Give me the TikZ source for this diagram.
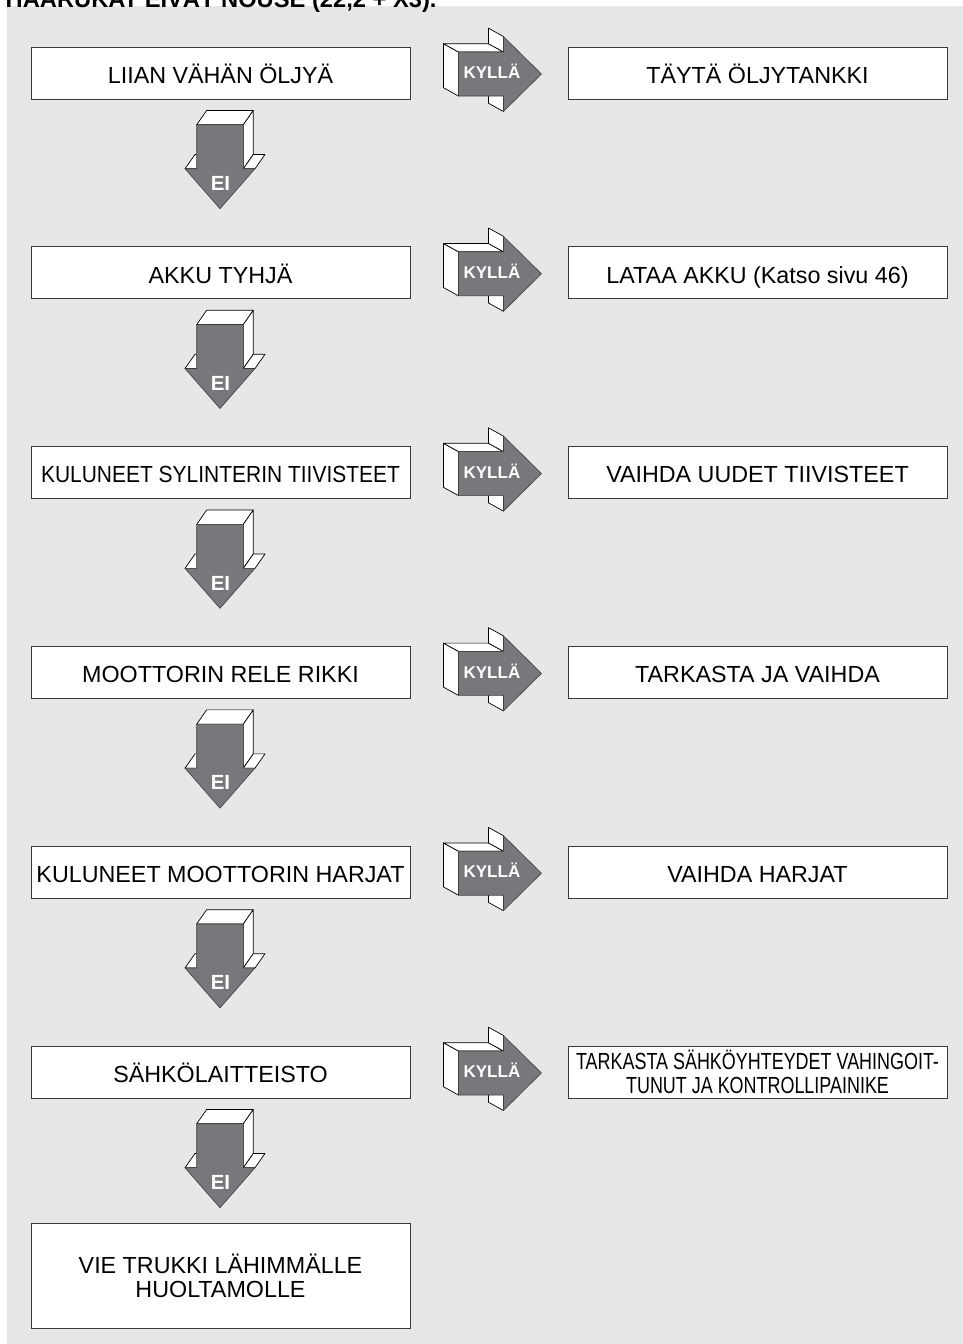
\documentclass[tikz,border=0pt]{standalone}
\usepackage{fontspec}
\setmainfont{Liberation Sans}
\usepackage{graphicx}
\definecolor{bg}{HTML}{E6E7E8}
\definecolor{arrowgrey}{HTML}{77787B}
\definecolor{edge}{HTML}{3A3A3A}

\newcommand\kyllashape[1]{%
  \filldraw[face] (0,-22)--(-15,-30.3)--(-15,13.7)--(0,22)--cycle;
  \filldraw[face] (0,-22)--(-15,-30.3)--(30,-30.3)--(45,-22)--cycle;
  \filldraw[face] (45,-37.5)--(30,-45.8)--(30,-30.3)--(45,-22)--cycle;
  \filldraw[face] (45,22)--(30,13.7)--(30,29.2)--(45,37.5)--cycle;
  \filldraw[front] (0,-22)--(45,-22)--(45,-37.5)--(83,0)--(45,37.5)--(45,22)--(0,22)--cycle;
  \node[yeslbl] (#1) at (33.5,4.6) {KYLLÄ};
}
\newcommand\eishape[1]{%
  \filldraw[face] (-23.3,0)--(-13.3,-14.3)--(33.3,-14.3)--(23.3,0)--cycle;
  \filldraw[face] (23.3,0)--(33.3,-14.3)--(33.3,29.7)--(23.3,44)--cycle;
  \filldraw[face] (-35,44)--(-25,29.7)--(-13.3,29.7)--(-23.3,44)--cycle;
  \filldraw[face] (23.3,44)--(33.3,29.7)--(45,29.7)--(35,44)--cycle;
  \filldraw[front] (-23.3,0)--(23.3,0)--(23.3,44)--(35,44)--(0,84)--(-35,44)--(-23.3,44)--cycle;
  \node[nolbl] (#1) at (0.5,65.7) {EI};
}

\begin{document}
\begin{tikzpicture}[x=1pt,y=-1pt,
  box/.style={draw=edge, line width=0.9pt, fill=white, minimum width=379pt,
    minimum height=52pt, inner sep=0pt, align=center,
    font=\fontsize{23.3}{24}\selectfont},
  onebox/.style={box, text height=20.7pt, text depth=0pt},
  face/.style={fill=white, draw=black, line width=0.7pt, line join=round},
  front/.style={fill=arrowgrey, draw=black!75, line width=0.6pt, line join=round},
  yeslbl/.style={anchor=base, inner sep=0pt, text=white, font=\bfseries\fontsize{17}{17}\selectfont},
  nolbl/.style={anchor=base, inner sep=0pt, text=white, font=\bfseries\fontsize{20.5}{21}\selectfont}
]
\useasboundingbox (0,0) rectangle (963,1344);
\fill[bg] (7,6) rectangle (963,1344);
\node[anchor=base west, inner sep=0pt, font=\bfseries\fontsize{23.7}{24}\selectfont] (title) at (5.5,7) {HAARUKAT EIVÄT NOUSE (22,2 + X3).};

% questions
\node[onebox] (q0) at (220.5,73) {LIIAN VÄHÄN ÖLJYÄ};
\node[onebox] (q1) at (220.5,272.8) {AKKU TYHJÄ};
\node[onebox] (q2) at (220.5,472.6) {\scalebox{0.9}[1]{KULUNEET SYLINTERIN TIIVISTEET}};
\node[onebox] (q3) at (220.5,672.4) {MOOTTORIN RELE RIKKI};
\node[onebox] (q4) at (220.5,872.2) {KULUNEET MOOTTORIN HARJAT};
\node[onebox] (q5) at (220.5,1072) {SÄHKÖLAITTEISTO};
\node[box, minimum height=105pt] (fin) at (220.5,1275.5) {VIE TRUKKI LÄHIMMÄLLE\\HUOLTAMOLLE};

% answers
\node[onebox] (a0) at (757.5,73) {TÄYTÄ ÖLJYTANKKI};
\node[onebox] (a1) at (757.5,272.8) {LATAA AKKU (Katso sivu 46)};
\node[onebox] (a2) at (757.5,472.6) {VAIHDA UUDET TIIVISTEET};
\node[onebox] (a3) at (757.5,672.4) {TARKASTA JA VAIHDA};
\node[onebox] (a4) at (757.5,872.2) {VAIHDA HARJAT};
\node[box] (a5) at (757.5,1072) {\scalebox{0.77}[1]{TARKASTA SÄHKÖYHTEYDET VAHINGOIT-}\\\scalebox{0.77}[1]{TUNUT JA KONTROLLIPAINIKE}};

% arrows
\foreach \i in {0,...,5}{
  \begin{scope}[shift={(q\i.east)}, shift={(48,1)}]
    \kyllashape{yes\i}
  \end{scope}
  \begin{scope}[shift={(q\i.south)}, shift={(-0.5,25.3)}]
    \eishape{no\i}
  \end{scope}
}
\end{tikzpicture}
\end{document}
